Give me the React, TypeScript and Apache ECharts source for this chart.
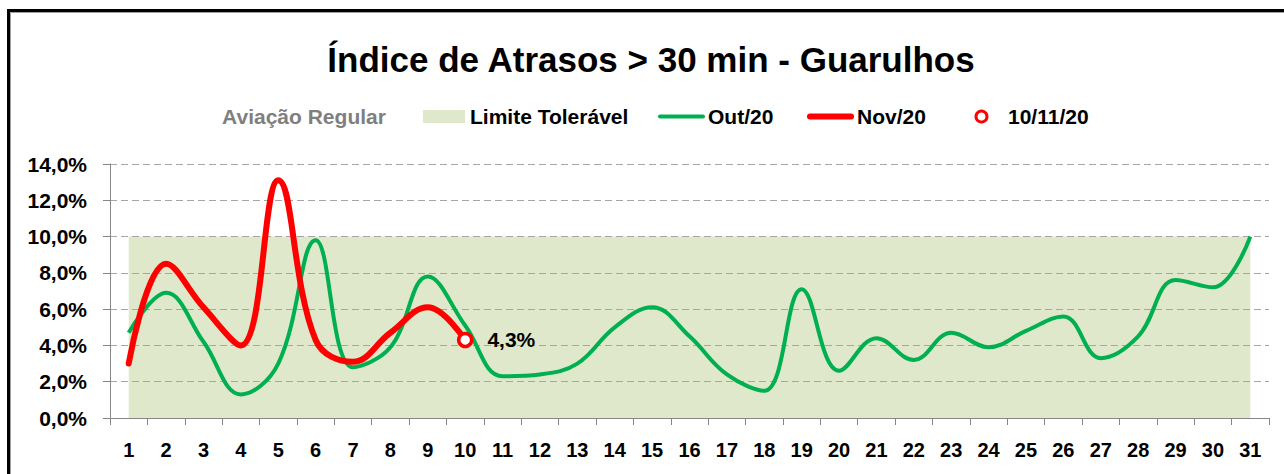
import React, { useEffect, useRef } from 'react';
import * as echarts from 'echarts';

const days = ['1', '2', '3', '4', '5', '6', '7', '8', '9', '10', '11', '12', '13', '14', '15', '16', '17', '18', '19', '20', '21', '22', '23', '24', '25', '26', '27', '28', '29', '30', '31'];
const limitValues = [10, 10, 10, 10, 10, 10, 10, 10, 10, 10, 10, 10, 10, 10, 10, 10, 10, 10, 10, 10, 10, 10, 10, 10, 10, 10, 10, 10, 10, 10, 10];
const outValues = [4.7, 6.9, 4.2, 1.3, 3.0, 9.8, 2.8, 3.9, 7.8, 5.1, 2.3, 2.4, 3.0, 5.0, 6.1, 4.5, 2.4, 1.5, 7.1, 2.6, 4.4, 3.2, 4.7, 3.9, 4.8, 5.6, 3.3, 4.5, 7.6, 7.2, 10.0];
const novValues = [3.0, 8.5, 6.1, 4.0, 13.1, 4.3, 3.1, 4.7, 6.1, 4.3];
const highlightValues = ['-', '-', '-', '-', '-', '-', '-', '-', '-', 4.3];
const yTicks = { min: 0, max: 14, interval: 2 };

const FONT = '"Liberation Sans", Arial, sans-serif';
const fmt = (v: number) => v.toFixed(1).replace('.', ',') + '%';

export default function App() {
  const ref = useRef<HTMLDivElement>(null);
  useEffect(() => {
    const chart = echarts.init(ref.current!, null, { renderer: 'svg' });
    chart.setOption({
      animation: false,
      backgroundColor: '#ffffff',
      textStyle: { fontFamily: FONT, fontWeight: 'bold' },
      grid: { left: 110, top: 164, right: 15, bottom: 56, containLabel: false },
      xAxis: {
        type: 'category',
        data: days,
        boundaryGap: true,
        axisLine: { show: true, lineStyle: { color: '#868686', width: 1 } },
        axisTick: { show: true, length: 7, interval: 0, lineStyle: { color: '#868686' } },
        axisLabel: { interval: 0, margin: 22, color: '#000', fontSize: 20, fontWeight: 'bold', fontFamily: FONT },
      },
      yAxis: {
        type: 'value',
        min: yTicks.min,
        max: yTicks.max,
        interval: yTicks.interval,
        axisLine: { show: true, lineStyle: { color: '#868686', width: 1 } },
        axisTick: { show: true, length: 7, lineStyle: { color: '#868686' } },
        axisLabel: { margin: 23, color: '#000', fontSize: 21, fontWeight: 'bold', fontFamily: FONT, formatter: (v: number) => fmt(v) },
        splitLine: { show: true, lineStyle: { color: '#a6a6a6', width: 1, type: [7, 4] } },
      },
      series: [
        {
          name: 'Limite Tolerável',
          type: 'line',
          data: limitValues,
          symbol: 'none',
          silent: true,
          lineStyle: { width: 0, opacity: 0 },
          areaStyle: { color: '#dfe8cb', opacity: 1 },
          z: -1,
        },
        {
          name: 'Out/20',
          type: 'line',
          data: outValues,
          symbol: 'none',
          smooth: 0.4,
          lineStyle: { color: '#00b050', width: 4 },
          z: 3,
        },
        {
          name: 'Nov/20',
          type: 'line',
          data: novValues,
          symbol: 'none',
          smooth: 0.4,
          lineStyle: { color: '#ff0000', width: 6, cap: 'round' },
          z: 4,
        },
        {
          name: '10/11/20',
          type: 'scatter',
          data: highlightValues,
          symbol: 'circle',
          symbolSize: 13,
          itemStyle: { color: '#ffffff', borderColor: '#ff0000', borderWidth: 3.5, opacity: 1 },
          emphasis: { disabled: true },
          label: {
            show: true,
            position: 'right',
            distance: 14,
            color: '#000',
            opacity: 1,
            fontSize: 21,
            fontWeight: 'bold',
            fontFamily: FONT,
            formatter: (p: any) => fmt(p.value),
          },
          z: 5,
        },
      ],
      graphic: [
        { type: 'rect', silent: true, shape: { x: 8.5, y: 10.5, width: 1300, height: 500 }, style: { fill: 'none', stroke: '#000', lineWidth: 3 } },
        { type: 'rect', silent: true, shape: { x: 10.5, y: 12.5, width: 1300, height: 500 }, style: { fill: 'none', stroke: '#a0a0a0', lineWidth: 1 } },
        { type: 'text', x: 651, y: 59, style: { text: 'Índice de Atrasos > 30 min - Guarulhos', font: `bold 35px ${FONT}`, fill: '#000', align: 'center', verticalAlign: 'middle' } },
        { type: 'text', x: 304, y: 116.5, style: { text: 'Aviação Regular', font: `bold 21px ${FONT}`, fill: '#7f7f7f', align: 'center', verticalAlign: 'middle' } },
        { type: 'rect', shape: { x: 423, y: 110, width: 42, height: 13 }, style: { fill: '#dfe8cb' } },
        { type: 'text', x: 470, y: 116.5, style: { text: 'Limite Tolerável', font: `bold 21px ${FONT}`, fill: '#000', align: 'left', verticalAlign: 'middle' } },
        { type: 'line', shape: { x1: 660, y1: 116.5, x2: 703, y2: 116.5 }, style: { stroke: '#00b050', lineWidth: 4, lineCap: 'round' } },
        { type: 'text', x: 708, y: 116.5, style: { text: 'Out/20', font: `bold 21px ${FONT}`, fill: '#000', align: 'left', verticalAlign: 'middle' } },
        { type: 'line', shape: { x1: 810, y1: 116.5, x2: 851, y2: 116.5 }, style: { stroke: '#ff0000', lineWidth: 6, lineCap: 'round' } },
        { type: 'text', x: 857, y: 116.5, style: { text: 'Nov/20', font: `bold 21px ${FONT}`, fill: '#000', align: 'left', verticalAlign: 'middle' } },
        { type: 'circle', shape: { cx: 981.5, cy: 116.5, r: 5.5 }, style: { fill: '#fff', stroke: '#ff0000', lineWidth: 3 } },
        { type: 'text', x: 1008, y: 116.5, style: { text: '10/11/20', font: `bold 21px ${FONT}`, fill: '#000', align: 'left', verticalAlign: 'middle' } },
      ],
    });
    return () => chart.dispose();
  }, []);
  return <div ref={ref} style={{ position: 'fixed', left: 0, top: 0, width: 1284, height: 474, background: '#fff' }} />;
}
